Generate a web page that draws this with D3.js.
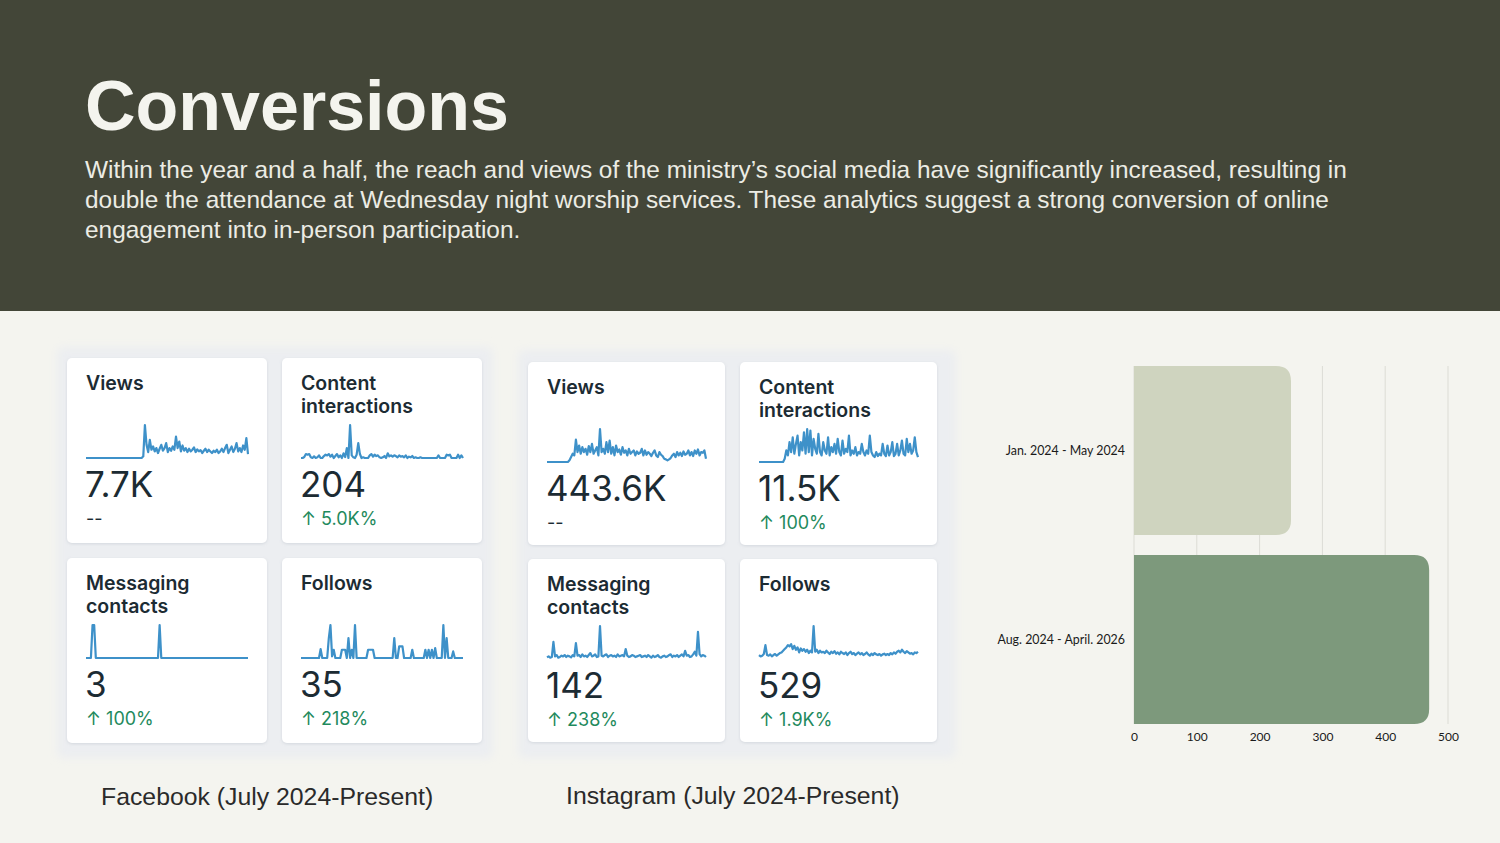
<!DOCTYPE html>
<html>
<head>
<meta charset="utf-8">
<script src="https://cdn.jsdelivr.net/npm/d3@7"></script>
<style>
  html, body { margin: 0; padding: 0; background: #f4f4ef; }
  svg { display: block; }
</style>
</head>
<body>
<div id="grafica"></div>
<script>
// Datos de las tarjetas (aprox.)
const fbViews = [
  0,0,0,0,0,0,0,0,0,0,0,0,0,0,0,0,0,0,0,0,
  0,0,0,0,0,0,0,0,0,0,0,0,0,0,0,5,100,40,18,55,
  25,35,20,30,15,28,40,22,30,45,18,30,22,35,25,65,30,50,20,38,
  22,30,18,28,20,25,32,18,26,20,24,15,22,28,18,25,20,15,22,18,
  25,15,20,28,18,30,40,15,25,35,18,28,45,20,30,18,38,25,60,12
];
const fbContent = [
  0,0,3,12,10,12,2,0,5,0,2,8,0,0,6,10,8,12,4,10,
  0,6,12,2,8,0,14,3,30,0,100,8,2,0,10,45,12,0,2,0,
  0,0,8,12,4,10,6,8,2,0,2,6,0,14,5,8,4,8,6,2,
  8,4,6,2,8,0,4,2,6,0,2,0,0,2,0,0,0,0,0,0,
  0,0,0,0,8,0,0,0,0,10,8,10,0,0,0,0,10,0,8,0
];
const fbMessaging = [
  0,0,0,0,100,100,0,0,0,0,0,0,0,0,0,0,0,0,0,0,
  0,0,0,0,0,0,0,0,0,0,0,0,0,0,0,0,0,0,0,0,
  0,0,0,0,0,100,0,0,0,0,0,0,0,0,0,0,0,0,0,0,
  0,0,0,0,0,0,0,0,0,0,0,0,0,0,0,0,0,0,0,0,
  0,0,0,0,0,0,0,0,0,0,0,0,0,0,0,0,0,0,0,0
];
const fbFollows = [
  0,0,0,0,0,0,0,0,0,0,0,0,27,0,0,0,0,60,100,5,
  25,0,0,0,0,25,25,25,0,60,0,25,0,100,0,0,0,0,0,0,
  0,25,25,25,25,0,0,0,0,0,0,0,0,0,0,0,0,60,0,0,
  35,35,35,0,0,0,0,0,25,0,0,0,0,0,0,0,25,0,25,0,
  25,0,30,0,0,0,0,100,0,60,0,0,0,20,0,0,0,0,0,0
];
const igViews = [
  0,0,0,0,0,0,0,0,0,0,0,0,0,0,5,15,25,20,68,30,
  50,25,45,30,40,22,48,30,55,25,35,45,20,100,30,40,25,60,30,65,
  25,45,20,50,30,38,22,45,28,35,20,40,25,30,35,20,32,25,28,40,
  20,35,22,30,25,18,28,35,20,15,30,22,18,10,8,5,8,12,20,25,
  15,30,20,28,18,32,22,25,35,20,30,18,35,25,38,20,30,28,35,10
];
const igContent = [
  0,0,0,0,0,0,0,0,0,0,0,0,0,0,0,0,10,35,20,60,
  30,75,25,55,80,20,60,35,90,25,100,30,95,20,70,40,25,85,30,20,
  60,35,25,75,20,45,30,55,25,70,30,20,65,25,40,30,80,20,35,25,
  45,20,30,25,55,30,20,35,25,80,30,20,15,30,18,25,20,55,25,18,
  50,20,30,60,18,25,55,20,35,65,25,20,70,30,55,25,35,75,30,15
];
const igMessaging = [
  5,8,4,6,52,8,12,4,6,10,8,12,6,10,8,5,12,8,48,10,
  12,6,14,8,10,6,12,18,8,10,14,6,8,100,10,8,12,14,6,10,
  12,8,10,6,14,8,10,12,8,30,10,6,8,12,10,6,8,10,12,6,
  8,10,6,12,8,4,10,6,8,12,6,4,8,10,6,8,12,14,6,10,
  8,12,6,10,14,8,25,10,12,6,8,14,22,10,82,15,8,12,10,6
];
const igFollows = [
  12,8,10,15,42,12,10,14,8,12,15,10,14,18,20,25,30,35,42,38,
  45,30,40,28,35,20,32,25,30,22,28,18,25,20,100,22,28,18,25,20,
  22,18,25,20,15,22,18,24,16,20,14,22,18,15,20,12,18,22,15,18,
  12,16,20,14,18,12,15,20,14,10,16,12,18,14,12,15,10,14,16,12,
  15,12,18,14,20,16,22,25,20,28,22,18,24,20,16,18,14,20,18,22
];

// Etiquetas y totales de las tarjetas
const cardLabels = [["Views"], ["Content", "interactions"], ["Messaging", "contacts"], ["Follows"]];
const fbTotals = ["7.7K", "204", "3", "35"];
const fbChanges = ["--", "5.0K%", "100%", "218%"];
const igTotals = ["443.6K", "11.5K", "142", "529"];
const igChanges = ["--", "100%", "238%", "1.9K%"];

// Datos de la grafica de barras (asistencia)
const periods = ["Jan. 2024 - May 2024", "Aug. 2024 - April. 2026"];
const attendance = [250, 470];
const xTicks = [0, 100, 200, 300, 400, 500];

const W = 1500, H = 843;
const svg = d3.select("#grafica").append("svg")
  .attr("width", W).attr("height", H);

const defs = svg.append("defs");
defs.append("filter").attr("id", "blur").attr("x", "-10%").attr("y", "-10%")
  .attr("width", "120%").attr("height", "120%")
  .append("feGaussianBlur").attr("stdDeviation", 4);
const sh = defs.append("filter").attr("id", "sombra").attr("x", "-10%").attr("y", "-10%")
  .attr("width", "120%").attr("height", "130%");
sh.append("feDropShadow").attr("dx", 0).attr("dy", 1).attr("stdDeviation", 1.5)
  .attr("flood-color", "#8a94a6").attr("flood-opacity", 0.25);

// Fondo
svg.append("rect").attr("width", W).attr("height", H).attr("fill", "#f4f4ef");
svg.append("rect").attr("width", W).attr("height", 311).attr("fill", "#434638");

// Titulo y texto
svg.append("text")
  .attr("x", 85).attr("y", 130)
  .attr("font-family", "Liberation Sans, Arial, sans-serif")
  .attr("font-weight", "bold")
  .attr("font-size", 70)
  .attr("fill", "#f4f4ee")
  .text("Conversions");

const body = [
  "Within the year and a half, the reach and views of the ministry\u2019s social media have significantly increased, resulting in",
  "double the attendance at Wednesday night worship services. These analytics suggest a strong conversion of online",
  "engagement into in-person participation."
];
svg.append("g").selectAll("text").data(body).join("text")
  .attr("x", 85)
  .attr("y", (d, i) => 178 + i * 30)
  .attr("font-family", "Liberation Sans, Arial, sans-serif")
  .attr("font-size", 24.4)
  .attr("fill", "#ecece4")
  .text(d => d);

// Paneles de tarjetas
function drawPanel(px, py, pw, ph, cols, rows, cw, chh, series, totals, changes) {
  svg.append("rect")
    .attr("x", px).attr("y", py).attr("width", pw).attr("height", ph)
    .attr("rx", 6).attr("fill", "#eceef1")
    .attr("filter", "url(#blur)");

  series.forEach((s, i) => {
    const cx = cols[i % 2], cy = rows[Math.floor(i / 2)];
    const g = svg.append("g").attr("transform", `translate(${cx},${cy})`);
    g.append("rect").attr("width", cw).attr("height", chh).attr("rx", 5)
      .attr("fill", "#ffffff").attr("filter", "url(#sombra)");

    g.selectAll("text.lbl").data(cardLabels[i]).join("text")
      .attr("class", "lbl")
      .attr("x", 19).attr("y", (d, j) => 32 + j * 23)
      .attr("font-family", "Inter, Noto Sans, sans-serif")
      .attr("font-weight", 600)
      .attr("font-size", 19.5)
      .attr("fill", "#1c2b33")
      .text(d => d);

    // sparkline
    const x = d3.scaleLinear().domain([0, s.length - 1]).range([19, cw - 19]);
    const y = d3.scaleLinear().domain([0, 100]).range([100, 67]);
    const line = d3.line().x((d, k) => x(k)).y(d => y(d));
    g.append("path").datum(s)
      .attr("d", line)
      .attr("fill", "none")
      .attr("stroke", "#3e91c9")
      .attr("stroke-width", 2.2)
      .attr("stroke-linejoin", "round");

    g.append("text")
      .attr("x", 18).attr("y", 139)
      .attr("font-family", "Inter, Noto Sans, sans-serif")
      .attr("font-size", 35)
      .attr("fill", "#1c2b33")
      .text(totals[i]);

    const ch = changes[i];
    g.append("text")
      .attr("x", 19).attr("y", 167)
      .attr("font-family", "Inter, Noto Sans, sans-serif")
      .attr("font-size", 18)
      .attr("fill", ch === "--" ? "#1c2b33" : "#1f8a5d")
      .text(ch === "--" ? "--" : "\u2191 " + ch);
  });
}

drawPanel(57, 347, 436, 411, [67, 282], [358, 558], 200, 185,
  [fbViews, fbContent, fbMessaging, fbFollows], fbTotals, fbChanges);
drawPanel(518, 350, 438, 408, [528, 740], [362, 559], 197, 183,
  [igViews, igContent, igMessaging, igFollows], igTotals, igChanges);

// Pies de panel
const captions = [{t: "Facebook (July 2024-Present)", x: 101, y: 805},
                  {t: "Instagram (July 2024-Present)", x: 566, y: 804}];
svg.append("g").selectAll("text").data(captions).join("text")
  .attr("x", d => d.x).attr("y", d => d.y)
  .attr("font-family", "Liberation Sans, Arial, sans-serif")
  .attr("font-size", 24.8)
  .attr("fill", "#2a2a2a")
  .text(d => d.t);

// Grafica de barras
const xBar = d3.scaleLinear().domain([0, 500]).range([1134, 1448]);
const yBar = d3.scaleBand().domain(periods).range([366, 724]).paddingInner(0.106).paddingOuter(0);

svg.append("g").selectAll("line").data(xTicks).join("line")
  .attr("x1", d => xBar(d)).attr("x2", d => xBar(d))
  .attr("y1", 366).attr("y2", 724)
  .attr("stroke", "#dcdcd5").attr("stroke-width", 1);

const barColors = ["#cfd4bf", "#7d997c"];
const r = 15;
svg.append("g").selectAll("path").data(attendance).join("path")
  .attr("d", (d, i) => {
    const x0 = xBar(0), x1 = xBar(d), y0 = yBar(periods[i]), h = yBar.bandwidth();
    return `M${x0},${y0} H${x1 - r} Q${x1},${y0} ${x1},${y0 + r} V${y0 + h - r} Q${x1},${y0 + h} ${x1 - r},${y0 + h} H${x0} Z`;
  })
  .attr("fill", (d, i) => barColors[i]);

svg.append("g").selectAll("text").data(periods).join("text")
  .attr("x", 1125)
  .attr("y", d => yBar(d) + yBar.bandwidth() / 2)
  .attr("dy", "0.35em")
  .attr("text-anchor", "end")
  .attr("font-family", "Lato, Noto Sans, sans-serif")
  .attr("font-size", 12.4)
  .attr("fill", "#1a1a1a")
  .text(d => d);

const axis = svg.append("g").attr("transform", "translate(0,724)")
  .call(d3.axisBottom(xBar).tickValues(xTicks).tickSize(0).tickPadding(8));
axis.select(".domain").remove();
axis.selectAll("text")
  .attr("font-family", "Lato, Noto Sans, sans-serif")
  .attr("font-size", 12)
  .attr("fill", "#1a1a1a");
</script>
</body>
</html>
